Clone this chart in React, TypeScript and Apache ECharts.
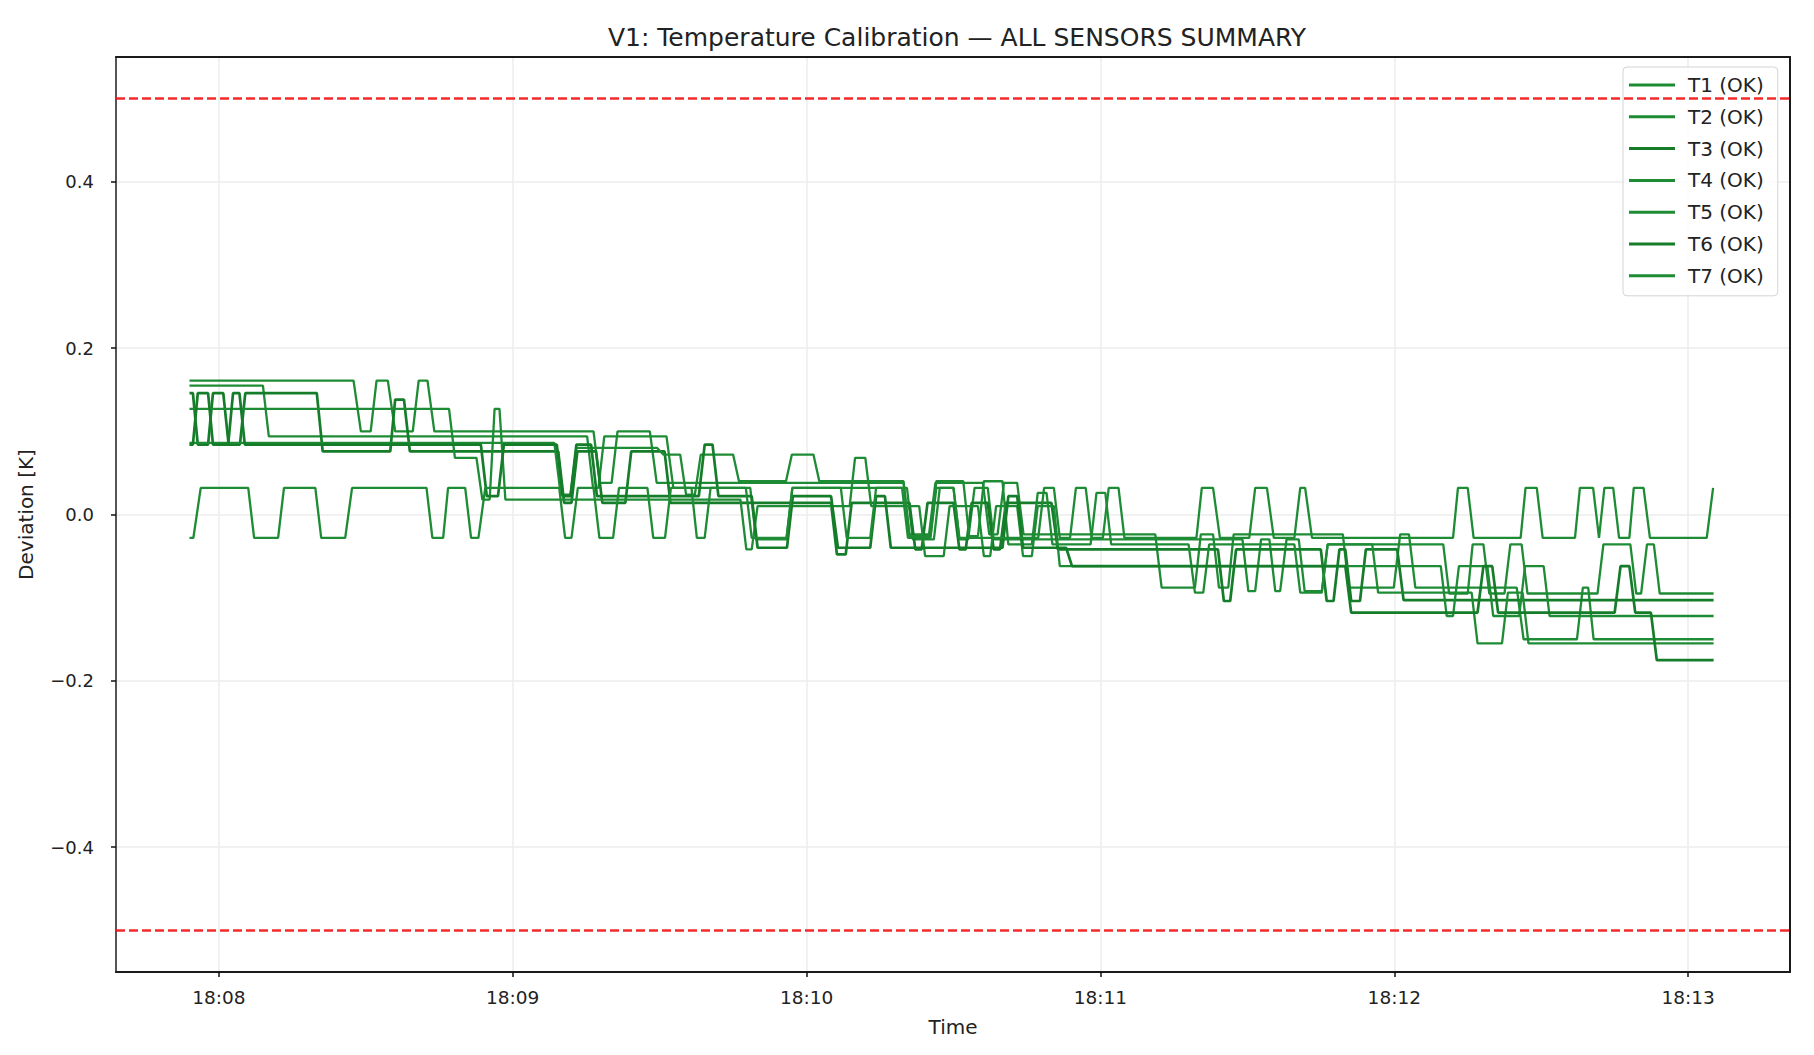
import React, { useEffect, useRef } from "react";
import * as echarts from "echarts";

// Time in seconds relative to 18:08:00; each segment = [start s, end s, deviation K]
const seriesNames = ["T1 (OK)", "T2 (OK)", "T3 (OK)", "T4 (OK)", "T5 (OK)", "T6 (OK)", "T7 (OK)"];

const t1Segments = [[-6,27.5,0.161],[29,31,0.1],[32.2,34.5,0.161],[36,39.6,0.1],[40.8,42.6,0.161],[44,76.5,0.1],[77.8,80.2,0.038],[81.4,88,0.1],[89.4,139.8,0.038],[141,145,-0.024],[146.3,156,0.038],[157.3,159,-0.024],[160.3,163,0.038],[164.3,191.2,-0.024],[192.5,199.3,-0.088],[200.5,203,-0.024],[204.2,206.1,-0.088],[207.2,229.5,-0.024],[230.7,239.9,-0.088],[241.2,243,-0.024],[244.3,265,-0.088],[266.4,277.3,-0.15],[278.5,279.6,-0.088],[280.7,305.2,-0.15]];
const t2Segments = [[-6,9,0.155],[10.2,75.2,0.094],[76.4,77.5,0.032],[78.7,91.4,0.094],[92.8,108.5,0.032],[109.7,115.9,-0.03],[117.1,140.5,0.032],[141.7,146,-0.03],[147.2,150,0.032],[151.2,153,-0.03],[154.3,157,0.032],[158.2,209,-0.03],[210.2,211.6,-0.092],[212.8,214.5,-0.03],[215.7,216.7,-0.092],[218,220.5,-0.03],[221.7,225.2,-0.092],[226.4,250,-0.036],[251.2,255,-0.095],[256,258.2,-0.036],[259.4,262.5,-0.095],[263.7,266,-0.036],[267.2,281.5,-0.095],[282.7,288.2,-0.036],[289.4,290.4,-0.095],[291.6,293,-0.036],[294.2,305.2,-0.095]];
const t3Segments = [[-6,-5.3,0.146],[-4.3,-2.2,0.084],[-1.2,0.9,0.146],[2,4.3,0.084],[5.4,20,0.146],[21.2,35,0.076],[36,37.8,0.138],[39,69.3,0.076],[70.5,72,0.014],[73.2,77,0.076],[78.3,83,0.014],[84.2,91,0.076],[92.2,125,0.014],[126.2,128,-0.048],[129.2,141,0.014],[142.2,143.5,-0.042],[144.7,150,0.014],[151.2,152.5,-0.042],[153.7,157,0.014],[158.2,159.5,-0.042],[160.7,170,0.014],[171.3,204,-0.042],[205.2,206.5,-0.104],[207.7,225,-0.042],[226.2,227.6,-0.104],[228.8,230,-0.042],[231.2,233,-0.104],[234.2,240.6,-0.042],[241.9,305.2,-0.103]];
const t4Segments = [[-6,47,0.127],[48.2,52.6,0.068],[53.8,55.3,0.018],[56.3,57.3,0.127],[58.5,106.5,0.018],[107.7,108.8,-0.042],[110,128.8,0.01],[129.9,132,0.068],[133.2,143,0.01],[144.2,148,-0.05],[149.2,155,0.01],[156.2,157.5,-0.05],[158.7,163,0.01],[164.2,166,-0.05],[167.2,170.5,0.01],[171.7,249.5,-0.062],[250.7,252,-0.122],[253.2,259,-0.062],[260.2,265.5,-0.122],[266.7,270.5,-0.062],[271.7,305.2,-0.122]];
const t5Segments = [[-6,68.5,0.086],[69.8,71.8,0.024],[73,89.5,0.08],[90.8,94.2,0.072],[95.4,97.2,0.024],[98.4,105,0.072],[106.2,115.8,0.04],[117,121.4,0.072],[122.6,139.8,0.04],[141,145.3,-0.026],[146.5,152,0.04],[153.2,155,-0.026],[156.2,160,0.04],[161.2,166,-0.036],[167.2,169,0.026],[170.2,178,-0.036],[179.2,181,0.026],[182.2,198,-0.036],[199.3,201,-0.094],[202.2,219.6,-0.036],[220.8,225.2,-0.094],[226.4,235.5,-0.036],[236.7,255.8,-0.094],[257,262,-0.155],[263.2,266.2,-0.094],[267.4,305.2,-0.155]];
const t6Segments = [[-6,-5.3,0.084],[-4.3,-2.2,0.146],[-1.2,1.9,0.084],[2.9,4.2,0.146],[5.3,53.5,0.084],[54.7,57,0.022],[58.2,69,0.084],[70.2,71.8,0.022],[73,76,0.084],[77.2,98,0.022],[99.2,100.8,0.084],[102,108.8,0.022],[110,116,-0.04],[117.2,125,0.022],[126.4,133,-0.04],[134.2,136,0.022],[137.2,160,-0.04],[161.2,163,0.022],[164.2,173,-0.04],[174.2,230,-0.062],[231.2,257,-0.118],[258.2,260,-0.062],[261.2,285,-0.118],[286.2,288,-0.062],[289.2,292.4,-0.118],[293.6,305.2,-0.175]];
const t7Segments = [[-6,-5.2,-0.028],[-3.7,6,0.032],[7.2,12.1,-0.028],[13.3,19.7,0.032],[20.9,25.8,-0.028],[27.2,42.4,0.032],[43.6,45.8,-0.028],[46.8,50.3,0.032],[51.5,53,-0.028],[54.4,69.5,0.032],[70.7,72,-0.028],[73.3,76.5,0.032],[77.7,80.5,-0.028],[81.7,87.5,0.032],[88.7,91.1,-0.028],[92.3,96.5,0.032],[97.6,99.2,-0.028],[100.4,107.6,0.032],[108.8,115.9,-0.028],[117.1,127,0.032],[128.2,133,-0.028],[134.2,139.5,0.032],[140.7,145.3,-0.028],[146.5,150,0.032],[151.2,167.3,-0.028],[168.5,170.5,0.032],[171.7,173.8,-0.028],[175,177,0.032],[178.2,180.5,-0.028],[181.7,183.7,0.032],[184.9,199.6,-0.028],[200.7,203,0.032],[204.4,210.4,-0.028],[211.6,214,0.032],[215.4,219.6,-0.028],[220.8,221.8,0.032],[223.2,252,-0.028],[253,255,0.032],[256.2,265.8,-0.028],[266.8,269.1,0.032],[270.3,276.9,-0.028],[277.9,280.6,0.032],[281.8,281.9,-0.028],[282.9,284.7,0.032],[285.9,288,-0.028],[288.9,290.9,0.032],[292.2,303.8,-0.028],[305.1,305.1,0.032]];

const allSegments = [t1Segments, t2Segments, t3Segments, t4Segments, t5Segments, t6Segments, t7Segments];
const limitValues = [0.5, -0.5];
const yTicks = [-0.4, -0.2, 0, 0.2, 0.4];

const FONT = "DejaVu Sans";

export default function App() {
  const ref = useRef<HTMLDivElement>(null);
  useEffect(() => {
    if (!ref.current) return;
    const chart = echarts.init(ref.current, undefined, { renderer: "svg" });
    const base = new Date(2024, 0, 1, 18, 8, 0).getTime();
    const xMin = base - 21 * 1000;
    const xMax = base + 320.8 * 1000;
    const toPoints = (segs: number[][]) => {
      const pts: [number, number][] = [];
      segs.forEach(([a, b, v]) => {
        pts.push([base + a * 1000, v]);
        if (b > a) pts.push([base + b * 1000, v]);
      });
      return pts;
    };
    const thick = [false, false, true, false, false, true, false];
    const colorOf = (i: number) => (thick[i] ? "#157d29" : "#1e8c34");
    const series: any[] = allSegments.map((segs, i) => ({
      name: seriesNames[i],
      type: "line",
      data: toPoints(segs),
      symbol: "none",
      showSymbol: false,
      lineStyle: { color: colorOf(i), width: thick[i] ? 2.7 : 2.3 },
      itemStyle: { color: colorOf(i) },
      z: 3,
    }));
    series[0].markLine = {
      silent: true,
      symbol: "none",
      label: { show: false },
      lineStyle: { color: "rgba(240,20,20,0.9)", type: [9, 4], width: 2.5 },
      data: limitValues.map((v) => ({ yAxis: v })),
    };
    const spine = { show: true, onZero: false, lineStyle: { color: "#1a1a1a", width: 2 } };
    chart.setOption({
      animation: false,
      backgroundColor: "#ffffff",
      title: {
        text: "V1: Temperature Calibration — ALL SENSORS SUMMARY",
        left: 952,
        top: 20,
        textAlign: "center",
        textStyle: { fontFamily: FONT, fontSize: 25, fontWeight: "normal", color: "#222" },
      },
      grid: {
        left: 116,
        right: 24,
        top: 57,
        bottom: 83,
        show: false,
      },
      legend: {
        orient: "vertical",
        left: 1623,
        top: 67,
        icon: "rect",
        itemWidth: 46,
        itemHeight: 3,
        itemGap: 11.8,
        padding: [8, 14, 10, 6],
        backgroundColor: "rgba(255,255,255,0.85)",
        borderColor: "#d4d4d4",
        borderWidth: 1,
        borderRadius: 4,
        textStyle: { fontFamily: FONT, fontSize: 20, lineHeight: 20, color: "#222", padding: [0, 0, 0, 8] },
        data: seriesNames,
      },
      xAxis: [
        {
          type: "time",
          min: xMin,
          max: xMax,
          minInterval: 60000,
          maxInterval: 60000,
          name: "Time",
          nameLocation: "middle",
          nameGap: 45,
          nameTextStyle: { fontFamily: FONT, fontSize: 20, color: "#222" },
          axisLine: spine,
          axisTick: { show: true, length: 5, lineStyle: { color: "#111", width: 1.5 } },
          axisLabel: {
            fontFamily: FONT,
            fontSize: 18.5,
            color: "#222",
            margin: 16,
            showMinLabel: false,
            showMaxLabel: false,
            formatter: (val: number) => {
              const d = new Date(val);
              const hh = String(d.getHours()).padStart(2, "0");
              const mm = String(d.getMinutes()).padStart(2, "0");
              return `${hh}:${mm}`;
            },
          },
          splitLine: { show: true, lineStyle: { color: "#ececec", width: 1.5 } },
        },
        {
          type: "time",
          position: "top",
          min: xMin,
          max: xMax,
          axisLine: spine,
          axisTick: { show: false },
          axisLabel: { show: false },
          splitLine: { show: false },
        },
      ],
      yAxis: [
        {
          type: "value",
          min: -0.55,
          max: 0.55,
          splitNumber: 5,
          name: "Deviation [K]",
          nameLocation: "middle",
          nameGap: 80,
          nameTextStyle: { fontFamily: FONT, fontSize: 20, color: "#222" },
          axisLine: { ...spine, lineStyle: { color: "#555", width: 2 } },
          axisTick: { show: true, length: 5, lineStyle: { color: "#111", width: 1.5 } },
          axisLabel: {
            fontFamily: FONT,
            fontSize: 18,
            color: "#222",
            margin: 22,
            showMinLabel: false,
            showMaxLabel: false,
            formatter: (v: number) => {
              const r = Math.round(v * 10) / 10;
              if (!yTicks.some((t) => Math.abs(t - r) < 1e-9) || Math.abs(v - r) > 1e-6) return "";
              return (r < 0 ? "\u2212" : "") + Math.abs(r).toFixed(1);
            },
          },
          splitLine: { show: true, lineStyle: { color: "#ececec", width: 1.5 } },
        },
        {
          type: "value",
          position: "right",
          min: -0.55,
          max: 0.55,
          axisLine: spine,
          axisTick: { show: false },
          axisLabel: { show: false },
          splitLine: { show: false },
        },
      ],
      series,
    });
    return () => chart.dispose();
  }, []);
  return (
    <div
      ref={ref}
      style={{ position: "absolute", left: 0, top: 0, width: 1814, height: 1055, background: "#fff" }}
    />
  );
}
